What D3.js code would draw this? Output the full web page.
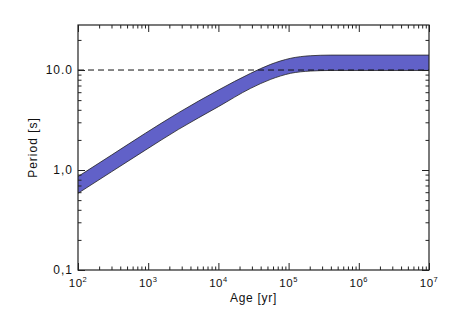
<!DOCTYPE html>
<html>
<head>
<meta charset="utf-8">
<script src="https://cdn.jsdelivr.net/npm/d3@7"></script>
<style>
  body { margin: 0; background: #fff; }
  text { font-family: "Liberation Sans", Helvetica, Arial, sans-serif; fill: #111; }
</style>
</head>
<body>
<div id="chart"></div>
<script>
// Period evolution band vs age

// Data
const ageYr = [100, 300, 910, 2700, 10000, 28800, 55700, 107000, 207000, 400000, 1e7];
const periodUpper = [0.86, 1.41, 2.33, 3.74, 6.3, 9.27, 11.4, 13.1, 13.9, 14.1, 14.1];
const periodLower = [0.585, 0.96, 1.58, 2.55, 4.3, 6.56, 8.07, 9.27, 9.77, 9.9, 9.9];
const refPeriod = 10;

const xTicks = [1e2, 1e3, 1e4, 1e5, 1e6, 1e7];
const xTickExp = ['2', '3', '4', '5', '6', '7'];
const yTicks = [0.1, 1, 10];
const yTickLabels = ['0,1', '1,0', '10.0'];

const W = 452, H = 323;
const margin = { top: 25, right: 23, bottom: 53, left: 78 };
const width = W - margin.left - margin.right;
const height = H - margin.top - margin.bottom;

const svg = d3.select('#chart').append('svg')
    .attr('width', W)
    .attr('height', H);

const g = svg.append('g')
    .attr('transform', `translate(${margin.left},${margin.top})`);

const x = d3.scaleLog().domain([1e2, 1e7]).range([0, width]);
const y = d3.scaleLog().domain([0.1, 28.2]).range([height, 0]);

const band = ageYr.map((t, i) => ({ t: t, lo: periodLower[i], hi: periodUpper[i] }));

// Band
const area = d3.area()
    .x(d => x(d.t))
    .y0(d => y(d.lo))
    .y1(d => y(d.hi))
    .curve(d3.curveMonotoneX);

g.append('path')
    .datum(band)
    .attr('d', area)
    .attr('fill', '#6161c8');

const lineHi = d3.line().x(d => x(d.t)).y(d => y(d.hi)).curve(d3.curveMonotoneX);
const lineLo = d3.line().x(d => x(d.t)).y(d => y(d.lo)).curve(d3.curveMonotoneX);

[lineHi, lineLo].forEach(l => {
    g.append('path')
        .datum(band)
        .attr('d', l)
        .attr('fill', 'none')
        .attr('stroke', '#222')
        .attr('stroke-width', 0.8);
});

// Dashed reference line
g.append('line')
    .attr('x1', 0)
    .attr('x2', width)
    .attr('y1', y(refPeriod))
    .attr('y2', y(refPeriod))
    .attr('stroke', '#111')
    .attr('stroke-width', 1)
    .attr('stroke-dasharray', '6,4');

// Minor tick values
function minorTicks(lo, hi) {
    const out = [];
    for (let e = Math.floor(Math.log10(lo)); e < Math.ceil(Math.log10(hi)); e++) {
        for (let k = 2; k <= 9; k++) {
            const v = k * Math.pow(10, e);
            if (v > lo && v < hi) out.push(v);
        }
    }
    return out;
}

const xMinor = minorTicks(1e2, 1e7);
const yMinor = minorTicks(0.1, 28.2);
const majLen = 7, minLen = 3.5;

// Bottom + top axes, left + right axes (ticks point inward)
const xAxisB = d3.axisBottom(x).tickValues(xTicks).tickSize(-majLen).tickFormat('');
const xAxisBm = d3.axisBottom(x).tickValues(xMinor).tickSize(-minLen).tickFormat('');
const xAxisT = d3.axisTop(x).tickValues(xTicks).tickSize(-majLen).tickFormat('');
const xAxisTm = d3.axisTop(x).tickValues(xMinor).tickSize(-minLen).tickFormat('');

const yAxisL = d3.axisLeft(y).tickValues(yTicks).tickSize(-majLen).tickFormat('');
const yAxisLm = d3.axisLeft(y).tickValues(yMinor).tickSize(-minLen).tickFormat('');
const yAxisR = d3.axisRight(y).tickValues(yTicks).tickSize(-majLen).tickFormat('');
const yAxisRm = d3.axisRight(y).tickValues(yMinor).tickSize(-minLen).tickFormat('');

const axes = [
    [xAxisB, `translate(0,${height})`], [xAxisBm, `translate(0,${height})`],
    [xAxisT, 'translate(0,0)'], [xAxisTm, 'translate(0,0)'],
    [yAxisL, 'translate(0,0)'], [yAxisLm, 'translate(0,0)'],
    [yAxisR, `translate(${width},0)`], [yAxisRm, `translate(${width},0)`]
];

axes.forEach(([ax, tr]) => {
    const a = g.append('g').attr('transform', tr).call(ax);
    a.select('.domain').remove();
    a.selectAll('line').attr('stroke', '#222').attr('stroke-width', 1);
});

// Frame
g.append('rect')
    .attr('width', width)
    .attr('height', height)
    .attr('fill', 'none')
    .attr('stroke', '#222')
    .attr('stroke-width', 1.2);

// X tick labels with superscripts
xTicks.forEach((t, i) => {
    const txt = g.append('text')
        .attr('x', x(t))
        .attr('y', height + 17)
        .attr('text-anchor', 'middle')
        .style('font-size', '11.5px')
        .style('letter-spacing', '0.5px');
    txt.append('tspan').text('10');
    txt.append('tspan')
        .attr('dy', -5)
        .style('font-size', '7.5px')
        .text(xTickExp[i]);
});

// Y tick labels
yTicks.forEach((t, i) => {
    g.append('text')
        .attr('x', -5)
        .attr('y', y(t) + 4)
        .attr('text-anchor', 'end')
        .style('font-size', '12px')
        .style('letter-spacing', '1px')
        .text(yTickLabels[i]);
});

// Axis titles
g.append('text')
    .attr('x', width / 2)
    .attr('y', height + 32)
    .attr('text-anchor', 'middle')
    .style('font-size', '12px')
    .style('letter-spacing', '0.7px')
    .text('Age [yr]');

g.append('text')
    .attr('transform', 'rotate(-90)')
    .attr('x', -height / 2)
    .attr('y', -41)
    .attr('text-anchor', 'middle')
    .style('font-size', '12px')
    .style('letter-spacing', '1px')
    .text('Period [s]');
</script>
</body>
</html>
